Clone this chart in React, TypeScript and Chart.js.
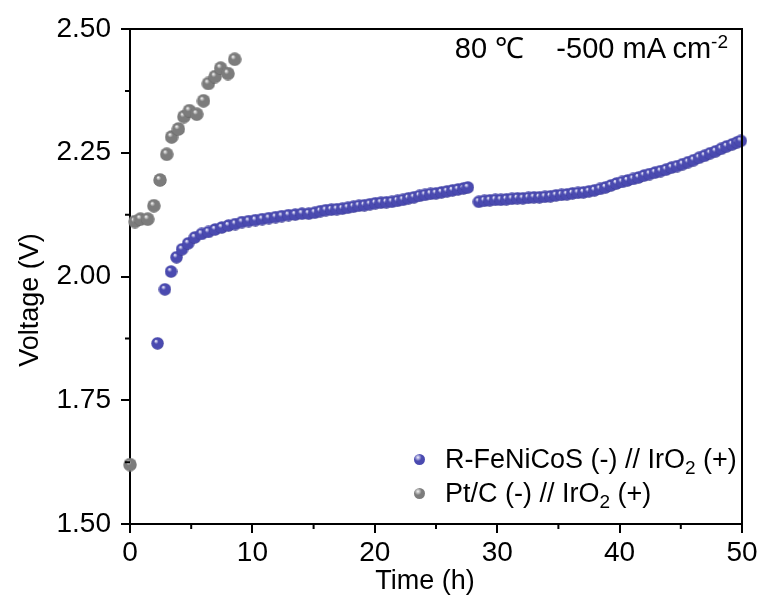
import React, { useEffect, useRef } from "react";
import { Chart, registerables } from "chart.js";

Chart.register(...registerables);

// Pt/C (-) // IrO2 (+)
const ptcTime = [0, 0.4, 0.85, 1.45, 1.95, 2.45, 3.0, 3.4, 3.95, 4.4, 4.85, 5.45, 6.0, 6.4, 6.95, 7.4, 8.0, 8.55];
const ptcVoltage = [1.62, 2.111, 2.116, 2.116, 2.143, 2.195, 2.247, 2.282, 2.298, 2.323, 2.335, 2.328, 2.355, 2.39, 2.404, 2.421, 2.41, 2.439];

// R-FeNiCoS (-) // IrO2 (+)
const rfTime = [
  2.25, 2.85, 3.35, 3.8, 4.25, 4.75, 5.3, 5.85, 6.4, 6.95, 7.5, 8.05, 8.6, 9.15, 9.7, 10.25, 10.8, 11.35, 11.9, 12.4,
  12.95, 13.5, 14.05, 14.6, 15.1, 15.55, 16.0, 16.45, 16.9, 17.35, 17.8, 18.25, 18.7, 19.15, 19.6, 20.05, 20.5, 20.95,
  21.4, 21.85, 22.3, 22.75, 23.2, 23.65, 24.1, 24.55, 25.0, 25.45, 25.9, 26.35, 26.8, 27.25, 27.6,
  28.5, 28.95, 29.4, 29.85, 30.3, 30.75, 31.2, 31.65, 32.1, 32.55, 33.0, 33.45, 33.9, 34.35, 34.8, 35.25, 35.7, 36.15,
  36.6, 37.05, 37.5, 37.95, 38.4, 38.85, 39.3, 39.75, 40.2, 40.65, 41.1, 41.55, 42.0, 42.45, 42.9, 43.35, 43.8, 44.25,
  44.7, 45.15, 45.6, 46.05, 46.5, 46.95, 47.4, 47.85, 48.3, 48.75, 49.2, 49.6, 49.9,
];
const rfVoltage = [
  1.865, 1.974, 2.01, 2.039, 2.055, 2.067, 2.079, 2.086, 2.09, 2.095, 2.099, 2.103, 2.106, 2.11, 2.112, 2.114, 2.116, 2.118, 2.12, 2.122,
  2.124, 2.125, 2.127, 2.127, 2.129, 2.132, 2.134, 2.135, 2.136, 2.137, 2.139, 2.141, 2.143, 2.144, 2.146, 2.148, 2.149, 2.15,
  2.151, 2.153, 2.155, 2.158, 2.16, 2.163, 2.165, 2.167, 2.168, 2.17, 2.172, 2.174, 2.176, 2.178, 2.18,
  2.151, 2.153, 2.154, 2.155, 2.155, 2.156, 2.157, 2.158, 2.158, 2.159, 2.16, 2.16, 2.161, 2.162, 2.164, 2.165, 2.166, 2.168,
  2.169, 2.17, 2.172, 2.174, 2.177, 2.18, 2.184, 2.188, 2.191, 2.194, 2.197, 2.2, 2.204, 2.207, 2.21, 2.213, 2.216, 2.22,
  2.223, 2.227, 2.231, 2.235, 2.24, 2.244, 2.249, 2.253, 2.258, 2.263, 2.267, 2.271, 2.274,
];

const xTicksMajor = [0, 10, 20, 30, 40, 50];
const xTicksMinor = [5, 15, 25, 35, 45];
const yTicksMinor = [1.625, 1.875, 2.125, 2.375];

const FONT = '"Liberation Sans", Arial, sans-serif';
const BLUE = { base: "#4a4ab0", light: "#f2f2ff", dark: "#2c2c7a" };
const GRAY = { base: "#7c7c7c", light: "#f4f4f4", dark: "#505050" };

function sphere(c: { base: string; light: string; dark: string }, d: number) {
  const cv = document.createElement("canvas");
  cv.width = d;
  cv.height = d;
  const ctx = cv.getContext("2d")!;
  const r = d / 2;
  const g = ctx.createRadialGradient(r * 0.72, r * 0.62, r * 0.05, r, r, r);
  g.addColorStop(0, c.light);
  g.addColorStop(0.32, c.base);
  g.addColorStop(0.88, c.base);
  g.addColorStop(1, c.dark);
  ctx.fillStyle = g;
  ctx.beginPath();
  ctx.arc(r, r, r - 0.3, 0, Math.PI * 2);
  ctx.fill();
  return cv;
}

const framePlugin = {
  id: "frame",
  afterDraw(chart: any) {
    const { ctx, chartArea, scales } = chart;
    const { left, right, top, bottom } = chartArea;
    ctx.save();
    ctx.strokeStyle = "#000";
    ctx.lineWidth = 2;
    ctx.beginPath();
    ctx.moveTo(left - 1, top);
    ctx.lineTo(right, top);
    ctx.lineTo(right, bottom + 1);
    ctx.stroke();
    ctx.beginPath();
    for (const v of xTicksMinor) {
      const px = scales.x.getPixelForValue(v);
      ctx.moveTo(px, bottom);
      ctx.lineTo(px, bottom + 5);
    }
    for (const v of yTicksMinor) {
      const py = scales.y.getPixelForValue(v);
      ctx.moveTo(left, py);
      ctx.lineTo(left - 5, py);
    }
    ctx.stroke();
    // axis titles
    ctx.fillStyle = "#000";
    ctx.font = `27px ${FONT}`;
    ctx.textAlign = "center";
    ctx.textBaseline = "middle";
    ctx.fillText("Time (h)", 425, 582);
    ctx.translate(31, 300);
    ctx.rotate(-Math.PI / 2);
    ctx.fillText("Voltage (V)", 0, 0);
    ctx.restore();
  },
};

export default function App() {
  const ref = useRef<HTMLCanvasElement>(null);
  useEffect(() => {
    const blueImg = sphere(BLUE, 13);
    const grayImg = sphere(GRAY, 14);
    const chart = new Chart(ref.current!, {
      type: "scatter",
      data: {
        datasets: [
          {
            label: "Pt/C (-) // IrO2 (+)",
            data: ptcTime.map((t, i) => ({ x: t, y: ptcVoltage[i] })),
            pointStyle: grayImg as any,
            clip: false as any,
          },
          {
            label: "R-FeNiCoS (-) // IrO2 (+)",
            data: rfTime.map((t, i) => ({ x: t, y: rfVoltage[i] })),
            pointStyle: blueImg as any,
            clip: false as any,
          },
        ],
      },
      options: {
        responsive: false,
        animation: false,
        layout: { padding: { left: 0, top: 29, right: 24, bottom: 0 } },
        plugins: { legend: { display: false }, tooltip: { enabled: false } },
        scales: {
          x: {
            type: "linear",
            min: 0,
            max: 50,
            afterFit: (s: any) => {
              s.height = 84;
            },
            afterBuildTicks: (s: any) => {
              s.ticks = xTicksMajor.map((v) => ({ value: v }));
            },
            ticks: { color: "#000", font: { size: 28, family: FONT }, padding: 3, maxRotation: 0 },
            grid: { drawOnChartArea: false, color: "#000", lineWidth: 2, tickLength: 9 },
            border: { color: "#000", width: 2 },
          },
          y: {
            type: "linear",
            min: 1.5,
            max: 2.5,
            afterFit: (s: any) => {
              s.width = 130;
            },
            ticks: {
              stepSize: 0.25,
              color: "#000",
              font: { size: 28, family: FONT },
              padding: 10,
              callback: (v: any) => Number(v).toFixed(2),
            },
            grid: { drawOnChartArea: false, color: "#000", lineWidth: 2, tickLength: 9 },
            border: { color: "#000", width: 2 },
          },
        },
      },
      plugins: [framePlugin],
    });
    return () => chart.destroy();
  }, []);

  const marker = (c: { base: string; light: string; dark: string }) => ({
    position: "absolute" as const,
    width: 11,
    height: 11,
    borderRadius: "50%",
    background: `radial-gradient(circle at 36% 31%, ${c.light} 0%, ${c.base} 36%, ${c.base} 85%, ${c.dark} 100%)`,
  });

  const textStyle = {
    position: "absolute" as const,
    fontFamily: FONT,
    fontSize: 27,
    color: "#000",
    whiteSpace: "nowrap" as const,
    lineHeight: "30px",
  };

  return (
    <div style={{ position: "fixed", left: 0, top: 0, width: 766, height: 608, background: "#fff" }}>
      <canvas ref={ref} width={766} height={608} style={{ display: "block" }} />
      <div style={{ ...textStyle, fontSize: 29, right: 38, top: 32, lineHeight: "32px" }}>
        80 ℃&nbsp;&nbsp;&nbsp;&nbsp;-500 mA cm<sup style={{ fontSize: 19, verticalAlign: "10px", lineHeight: 0 }}>-2</sup>
      </div>
      <div style={{ ...marker(BLUE), left: 414, top: 454 }} />
      <div style={{ ...marker(GRAY), left: 414, top: 488 }} />
      <div style={{ ...textStyle, left: 445, top: 444 }}>
        R-FeNiCoS (-) // IrO<sub style={{ fontSize: 19, verticalAlign: "-6px", lineHeight: 0 }}>2</sub> (+)
      </div>
      <div style={{ ...textStyle, left: 445, top: 478 }}>
        Pt/C (-) // IrO<sub style={{ fontSize: 19, verticalAlign: "-6px", lineHeight: 0 }}>2</sub> (+)
      </div>
    </div>
  );
}
